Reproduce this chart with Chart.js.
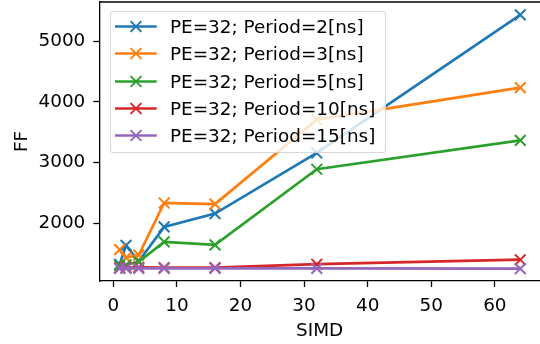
<!DOCTYPE html>
<html><head><meta charset="utf-8">
<script src="https://cdn.jsdelivr.net/npm/chart.js@4.4.1/dist/chart.umd.min.js"></script>
<style>
html,body{margin:0;padding:0;background:#fff;overflow:hidden}
#wrap{position:relative;width:540px;height:344px}
#legend{position:absolute;left:110px;top:10.7px;width:274px;height:140.5px;border:1px solid rgba(204,204,204,0.8);background:rgba(255,255,255,0.8);border-radius:3px;font-family:"DejaVu Sans";font-size:18.4px;color:#000}
.row{position:absolute;left:0;height:27px;width:274px}
.row svg{position:absolute;left:4px;top:0}
.row span{position:absolute;left:59px;top:0;line-height:27px;white-space:nowrap}
</style>
</head><body>
<div id="wrap"><canvas id="c" width="540" height="344"></canvas><div id="legend"></div></div>
<script>
const simd = [1, 2, 4, 8, 16, 32, 64];
const ffPeriod2  = [1330, 1640, 1380, 1944, 2164, 3160, 5430];
const ffPeriod3  = [1570, 1440, 1480, 2338, 2320, 3708, 4234];
const ffPeriod5  = [1310, 1320, 1370, 1698, 1650, 2892, 3368];
const ffPeriod10 = [1270, 1275, 1280, 1275, 1275, 1331, 1405];
const ffPeriod15 = [1262, 1262, 1262, 1262, 1262, 1262, 1258];
const seriesLabels = ['PE=32; Period=2[ns]', 'PE=32; Period=3[ns]', 'PE=32; Period=5[ns]', 'PE=32; Period=10[ns]', 'PE=32; Period=15[ns]'];
const seriesColors = ['#1f77b4', '#ff7f0e', '#2ca02c', '#d62728', '#9467bd'];
const xTicks = [0, 10, 20, 30, 40, 50, 60];
const yTicks = [2000, 3000, 4000, 5000];

const allSeries = [ffPeriod2, ffPeriod3, ffPeriod5, ffPeriod10, ffPeriod15];
const FONT = {family: 'DejaVu Sans', size: 18.4, lineHeight: 1.2};

const datasets = allSeries.map((vals, i) => ({
  label: seriesLabels[i],
  data: simd.map((x, j) => ({x: x, y: vals[j]})),
  borderColor: seriesColors[i],
  backgroundColor: seriesColors[i],
  pointBorderColor: seriesColors[i],
  borderWidth: 2.7,
  pointStyle: 'crossRot',
  pointRadius: 7.6,
  pointBorderWidth: 2,
  tension: 0,
  fill: false,
  order: allSeries.length - i
}));

const topBorder = {
  id: 'topBorder',
  afterDatasetsDraw(chart) {
    const {ctx, chartArea: a} = chart;
    ctx.save();
    ctx.strokeStyle = '#000';
    ctx.lineWidth = 1.3;
    ctx.beginPath();
    ctx.moveTo(a.left, a.top);
    ctx.lineTo(a.right, a.top);
    ctx.stroke();
    ctx.restore();
  }
};

const axisCommon = {
  type: 'linear',
  grid: {display: true, drawOnChartArea: false, drawTicks: true, tickLength: 6, tickColor: '#000', tickWidth: 1.3},
  border: {display: true, color: '#000', width: 1.3},
  ticks: {font: FONT, color: '#000', padding: 8, autoSkip: false, maxRotation: 0, callback: v => String(v)}
};

new Chart(document.getElementById('c'), {
  type: 'line',
  data: {datasets: datasets},
  options: {
    responsive: false,
    devicePixelRatio: 1,
    animation: false,
    layout: {autoPadding: false, padding: {top: 2, left: 0, right: 0, bottom: 0}},
    plugins: {legend: {display: false}, tooltip: {enabled: false}},
    scales: {
      x: Object.assign({}, axisCommon, {
        position: 'bottom',
        min: -2.2, max: 67.1,
        afterBuildTicks: s => { s.ticks = xTicks.map(v => ({value: v})); },
        afterFit: s => { s.height = 63; s.paddingLeft = 0; s.paddingRight = 0; },
        title: {display: true, text: 'SIMD', font: FONT, color: '#000', padding: {top: 0, bottom: 2}}
      }),
      y: Object.assign({}, axisCommon, {
        position: 'left',
        min: 1055, max: 5642,
        afterBuildTicks: s => { s.ticks = yTicks.map(v => ({value: v})); },
        afterFit: s => { s.width = 99.3; s.paddingTop = 0; s.paddingBottom = 0; },
        title: {display: true, text: 'FF', font: FONT, color: '#000', padding: {top: 10.7, bottom: 0}}
      })
    }
  },
  plugins: [topBorder]
});

// legend overlay built from the series names and colours
const legend = document.getElementById('legend');
const centers = [26.7, 53.9, 81.1, 108.3, 135.5];
seriesLabels.forEach((lab, i) => {
  const row = document.createElement('div');
  row.className = 'row';
  row.style.top = (centers[i] - 11.7 - 13.5) + 'px';
  const c = seriesColors[i];
  row.innerHTML = '<svg width="46" height="27" viewBox="0 0 46 27">' +
    '<line x1="0" y1="13.5" x2="41.7" y2="13.5" stroke="' + c + '" stroke-width="2.7"/>' +
    '<path d="M15.6 8.1 L26.4 18.9 M15.6 18.9 L26.4 8.1" stroke="' + c + '" stroke-width="2" fill="none"/>' +
    '</svg><span></span>';
  row.querySelector('span').textContent = lab;
  legend.appendChild(row);
});
</script>
</body></html>
